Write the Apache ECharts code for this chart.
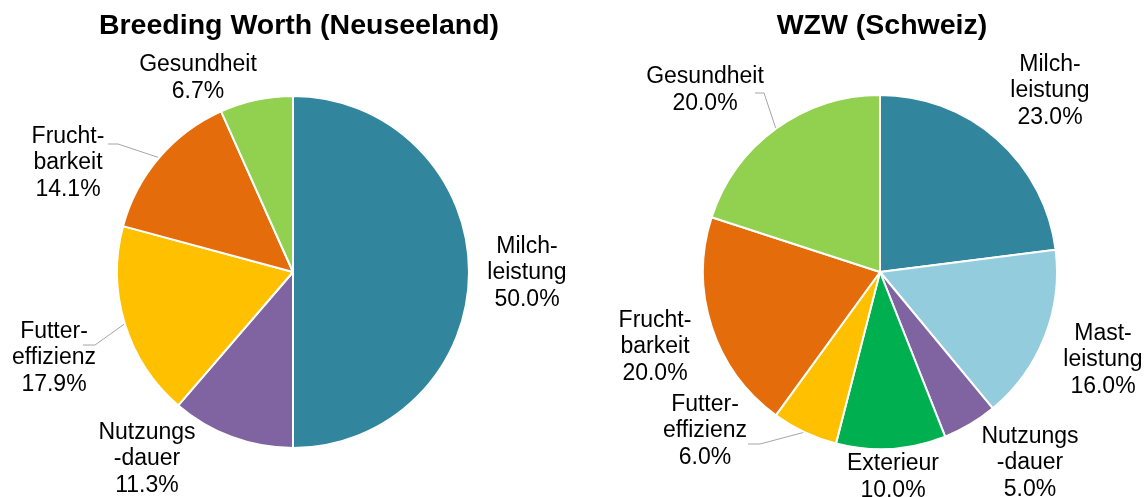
<!DOCTYPE html>
<html>
<head>
<meta charset="utf-8">
<script src="https://cdn.jsdelivr.net/npm/echarts@6/dist/echarts.min.js"></script>
<style>
  html, body { margin: 0; padding: 0; background: #ffffff; }
  #chart { width: 1148px; height: 497px; }
</style>
</head>
<body>
<div id="chart"></div>
<script>
// Breeding Worth (New Zealand) weighting
const nzTitle = 'Breeding Worth (Neuseeland)';
const nzCategories = ['Milch-\nleistung', 'Nutzungs\n-dauer', 'Futter-\neffizienz', 'Frucht-\nbarkeit', 'Gesundheit'];
const nzValues = [50.0, 11.3, 17.9, 14.1, 6.7];

// WZW (Switzerland) weighting
const chTitle = 'WZW (Schweiz)';
const chCategories = ['Milch-\nleistung', 'Mast-\nleistung', 'Nutzungs\n-dauer', 'Exterieur', 'Futter-\neffizienz', 'Frucht-\nbarkeit', 'Gesundheit'];
const chValues = [23.0, 16.0, 5.0, 10.0, 6.0, 20.0, 20.0];

// Slice colours
const nzColors = ['#31859C', '#8064A2', '#FFC000', '#E46C0A', '#92D050'];
const chColors = ['#31859C', '#93CDDD', '#8064A2', '#00B050', '#FFC000', '#E46C0A', '#92D050'];

// Label anchor points (centre of the text block)
const nzLabelPos = [[527, 273], [147, 459], [54, 358], [68, 163], [198, 78]];
const chLabelPos = [[1050, 91], [1103, 360], [1030, 463], [893, 477], [705, 431], [655, 347], [705, 90]];
// Leader lines: [dx, dy] of the stub end relative to the label anchor, and the stub length (null = no leader)
const nzLeader = [null, null, [29, -13, 12], [40, -19, 10], null];
const chLeader = [null, null, null, null, [43, 13, 12], null, [50, 3, 9]];

const FONT = '"Liberation Sans", Arial, sans-serif';
const LABEL_SIZE = 23;
const LINE_H = 26.5;

function buildData(names, values, colors, leaders) {
  return names.map((n, i) => ({
    name: n,
    value: values[i],
    itemStyle: { color: colors[i] },
    labelLine: { show: leaders[i] != null }
  }));
}

function labelLayoutFor(positions, leaders) {
  return function (params) {
    const p = positions[params.dataIndex];
    const out = { x: p[0], y: p[1], align: 'center', verticalAlign: 'middle' };
    const lead = leaders[params.dataIndex];
    if (lead && params.labelLinePoints) {
      // start on the slice rim at its mid angle, short horizontal stub next to the text
      const start = params.labelLinePoints[0];
      const end = [p[0] + lead[0], p[1] + lead[1]];
      const knee = [end[0] + lead[2], end[1]];
      out.labelLinePoints = [start, knee, end];
    }
    return out;
  };
}

const labelStyle = {
  show: true,
  position: 'outside',
  color: '#000000',
  fontFamily: FONT,
  fontSize: LABEL_SIZE,
  lineHeight: LINE_H,
  align: 'center',
  formatter: p => p.name + '\n' + p.value.toFixed(1) + '%'
};

const leaderStyle = { show: true, length: 10, length2: 10, lineStyle: { color: '#A6A6A6', width: 1 } };

const chart = echarts.init(document.getElementById('chart'), null, { renderer: 'canvas' });
chart.setOption({
  backgroundColor: '#ffffff',
  animation: false,
  title: [
    { text: nzTitle, left: 294, top: 7, textAlign: 'center',
      textStyle: { fontFamily: FONT, fontWeight: 'bold', fontSize: 28.5, color: '#000000' } },
    { text: chTitle, left: 877, top: 7, textAlign: 'center',
      textStyle: { fontFamily: FONT, fontWeight: 'bold', fontSize: 28.5, color: '#000000' } }
  ],
  series: [
    {
      type: 'pie',
      center: [293, 272],
      radius: 176,
      startAngle: 90,
      clockwise: true,
      avoidLabelOverlap: false,
      itemStyle: { borderColor: '#ffffff', borderWidth: 2 },
      label: labelStyle,
      labelLine: leaderStyle,
      labelLayout: labelLayoutFor(nzLabelPos, nzLeader),
      emphasis: { disabled: true },
      data: buildData(nzCategories, nzValues, nzColors, nzLeader)
    },
    {
      type: 'pie',
      center: [880, 272],
      radius: 177,
      startAngle: 90,
      clockwise: true,
      avoidLabelOverlap: false,
      itemStyle: { borderColor: '#ffffff', borderWidth: 2 },
      label: labelStyle,
      labelLine: leaderStyle,
      labelLayout: labelLayoutFor(chLabelPos, chLeader),
      emphasis: { disabled: true },
      data: buildData(chCategories, chValues, chColors, chLeader)
    }
  ]
});
</script>
</body>
</html>
